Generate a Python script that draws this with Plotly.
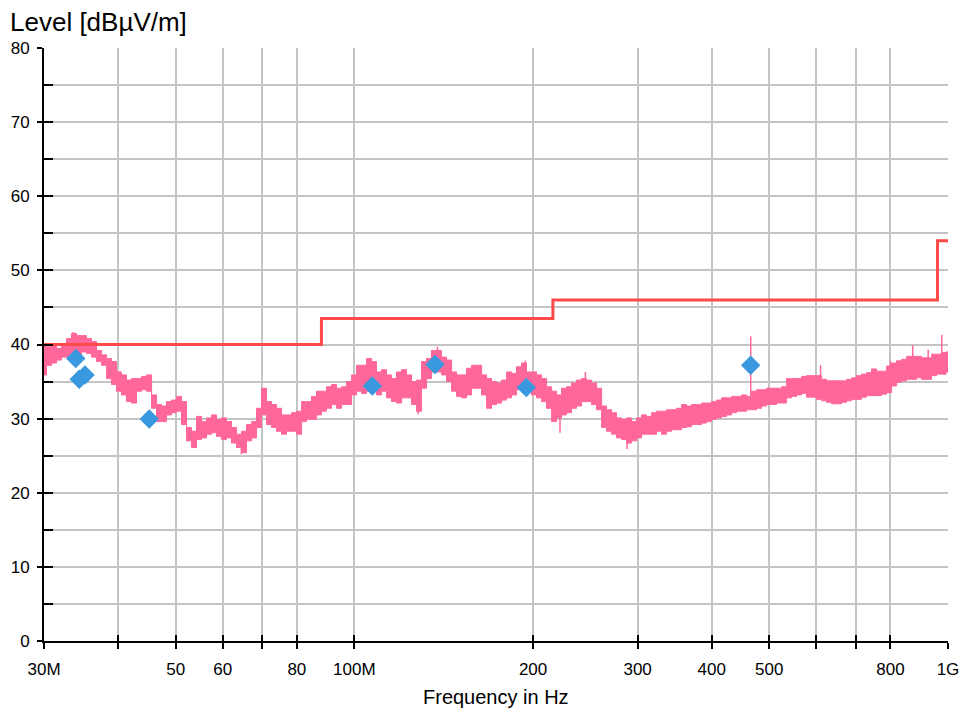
import math
import plotly.graph_objects as go

# ---- Peak scan: sweep frequencies (MHz) with upper / lower envelope of the trace (dBuV/m)
freq_mhz = [
    30.00, 30.59, 31.19, 31.80, 32.42, 33.05, 33.70, 34.36, 35.04, 35.72,
    36.42, 37.14, 37.87, 38.61, 39.36, 40.12, 40.91, 41.71, 42.54, 43.37,
    44.22, 45.09, 45.98, 46.87, 47.78, 48.71, 49.67, 50.64, 51.65, 52.65,
    53.68, 54.74, 55.82, 56.90, 58.01, 59.14, 60.30, 61.48, 62.71, 63.92,
    65.17, 66.46, 67.77, 69.08, 70.43, 71.80, 73.21, 74.64, 76.13, 77.60,
    79.12, 80.69, 82.28, 83.87, 85.50, 87.17, 88.88, 90.62, 92.43, 94.21,
    96.06, 97.96, 99.89, 101.82, 103.80, 105.83, 107.90, 110.02, 112.21, 114.37,
    116.62, 118.93, 121.27, 123.61, 126.02, 128.48, 131.00, 133.57, 136.23, 138.85,
    141.58, 144.39, 147.23, 150.07, 152.99, 155.98, 159.04, 162.16, 165.39, 168.57,
    171.88, 175.30, 178.74, 182.19, 185.73, 189.37, 193.08, 196.87, 200.79, 204.65,
    208.67, 212.82, 217.00, 221.19, 225.48, 229.90, 234.41, 239.01, 243.77, 248.45,
    253.33, 258.37, 263.45, 268.53, 273.74, 279.11, 284.58, 290.17, 295.95, 301.63,
    307.55, 313.67, 319.84, 326.01, 332.33, 338.85, 345.49, 352.28, 359.30, 366.19,
    373.38, 380.81, 388.30, 395.79, 403.46, 411.38, 419.44, 427.68, 436.20, 444.57,
    453.30, 462.32, 471.41, 480.50, 489.82, 499.43, 509.22, 519.22, 529.56, 539.73,
    550.32, 561.27, 572.31, 583.35, 594.66, 606.33, 618.22, 630.35, 642.91, 655.26,
    668.11, 681.41, 694.81, 708.21, 721.94, 736.11, 750.54, 765.27, 780.52, 795.51,
    811.11, 827.26, 843.53, 859.80, 876.47, 893.67, 911.19, 929.07, 947.58, 965.78,
    984.72, 1000.0,
]

level_max = [
    39.9, 39.7, 39.9, 39.5, 40.1, 40.8, 41.5, 41.2, 41.2, 40.8,
    40.4, 39.2, 38.6, 38.1, 37.7, 36.3, 35.9, 35.2, 35.4, 35.4,
    35.7, 35.9, 33.2, 31.9, 31.7, 32.3, 32.5, 33.0, 32.3, 28.8,
    28.3, 30.3, 29.6, 30.1, 30.5, 29.9, 30.1, 29.6, 28.8, 27.9,
    28.3, 29.2, 29.6, 31.4, 34.1, 32.3, 31.9, 31.4, 30.5, 30.5,
    30.8, 31.0, 32.3, 32.3, 33.0, 33.7, 33.7, 34.3, 34.6, 34.1,
    34.3, 35.0, 35.9, 37.2, 37.2, 38.1, 37.7, 36.3, 36.6, 35.9,
    35.4, 36.3, 36.6, 35.9, 35.0, 35.2, 37.7, 38.1, 39.2, 39.2,
    38.3, 37.9, 36.3, 35.9, 35.9, 36.8, 37.2, 37.2, 35.9, 35.4,
    35.0, 34.8, 35.2, 36.3, 36.1, 37.0, 37.5, 36.3, 36.3, 35.9,
    35.4, 34.3, 33.7, 33.2, 34.1, 34.3, 34.8, 35.2, 35.4, 35.2,
    34.8, 34.1, 31.7, 31.2, 30.8, 30.1, 29.9, 30.1, 29.6, 30.1,
    30.5, 30.3, 30.8, 31.0, 31.0, 31.2, 31.2, 31.4, 31.9, 31.7,
    31.9, 31.9, 32.1, 32.1, 32.3, 32.5, 32.8, 32.8, 33.0, 33.0,
    33.2, 33.0, 33.7, 33.9, 33.9, 34.1, 34.1, 34.1, 34.3, 35.4,
    35.4, 35.4, 35.7, 35.8, 35.8, 35.8, 35.3, 35.1, 35.1, 35.1,
    35.1, 35.3, 35.5, 35.8, 36.0, 36.2, 36.7, 36.4, 36.4, 37.1,
    37.5, 37.8, 38.0, 38.4, 38.4, 38.4, 38.2, 38.2, 38.7, 38.7,
    38.9, 39.0,
]

level_min = [
    35.9, 37.2, 37.5, 37.9, 38.3, 38.3, 38.6, 38.6, 39.0, 38.8,
    38.3, 37.7, 37.2, 35.4, 34.6, 33.7, 33.2, 32.3, 32.1, 33.7,
    33.9, 33.7, 31.4, 29.6, 29.6, 30.5, 30.8, 31.0, 29.2, 27.0,
    26.1, 27.2, 27.4, 27.9, 28.1, 27.6, 27.2, 27.4, 26.7, 26.1,
    25.4, 27.0, 27.4, 28.8, 30.5, 29.2, 28.8, 28.3, 27.9, 28.3,
    28.3, 27.9, 29.6, 29.9, 29.9, 30.5, 31.0, 31.4, 31.9, 31.4,
    31.9, 31.9, 33.2, 33.7, 33.4, 33.7, 33.7, 33.2, 33.7, 32.8,
    32.3, 32.1, 32.8, 32.8, 31.9, 31.0, 34.1, 35.4, 36.3, 36.3,
    35.9, 35.0, 33.7, 33.0, 32.8, 33.2, 34.1, 34.1, 33.2, 31.4,
    31.9, 32.1, 32.5, 32.8, 33.2, 33.9, 34.1, 33.7, 33.2, 32.8,
    32.3, 31.4, 29.6, 30.1, 30.5, 30.8, 31.4, 31.7, 32.3, 32.3,
    31.9, 31.2, 28.8, 28.3, 27.9, 27.4, 27.2, 26.7, 27.0, 27.4,
    27.9, 27.9, 27.9, 28.3, 27.9, 28.3, 28.5, 28.5, 28.8, 28.9,
    29.2, 29.2, 29.4, 29.6, 29.9, 30.1, 30.3, 30.5, 30.8, 31.0,
    31.0, 31.2, 31.2, 31.4, 31.7, 31.9, 31.9, 32.1, 32.1, 32.8,
    33.0, 33.2, 33.4, 32.9, 32.9, 32.6, 32.4, 32.2, 32.0, 32.0,
    32.2, 32.4, 32.6, 32.6, 32.9, 33.1, 33.1, 33.1, 33.3, 33.5,
    34.4, 34.9, 35.1, 35.3, 35.3, 35.5, 35.3, 35.3, 35.8, 36.0,
    36.0, 36.3,
]

# Narrow-band spikes standing out of the scan: frequency, foot and tip level
spike_freq = [33.6, 64.5, 128.0, 138.0, 194.0, 222.0, 245.0, 288.0, 465.2, 610.0, 800.0, 872.0, 926.0, 976.0]
spike_from = [40.5, 26.5, 31.5, 38.5, 36.5, 30.5, 34.5, 27.5, 32.5, 35.0, 36.5, 38.0, 38.0, 38.5]
spike_to = [41.7, 25.2, 30.6, 39.7, 37.8, 28.1, 36.3, 25.9, 41.1, 37.2, 37.8, 39.9, 39.3, 41.3]

# Final (quasi-peak) measurement points
final_freq = [33.93, 34.40, 35.17, 45.13, 107.2, 136.7, 194.8, 465.2]
final_level = [38.1, 35.3, 35.9, 29.95, 34.4, 37.3, 34.2, 37.2]

# Limit line
limit_freq = [30, 88, 216, 960, 1000]
limit_level = [40, 43.5, 46, 54, 54]

# Axis ticks
x_tick_vals = [30, 40, 50, 60, 70, 80, 100, 200, 300, 400, 500, 600, 700, 800, 1000]
x_tick_text = ["30M", "", "50", "60", "", "80", "100M", "200", "300", "400", "500", "", "", "800", "1G"]
y_tick_vals = [0, 10, 20, 30, 40, 50, 60, 70, 80]

PINK = "#ff6699"
BLUE = "#3a98de"
RED = "#ff4a4a"
GRID = "#c4c4c4"
FONT = "Liberation Sans, Arial, sans-serif"

x_range = [math.log10(30), math.log10(1000)]

fig = go.Figure()

# Scan band: lower envelope, then upper envelope filled down to it
fig.add_trace(go.Scatter(
    x=freq_mhz, y=level_min, mode="lines",
    line=dict(color=PINK, width=1, shape="hvh"),
    showlegend=False, hoverinfo="skip",
))
fig.add_trace(go.Scatter(
    x=freq_mhz, y=level_max, mode="lines",
    line=dict(color=PINK, width=1, shape="hvh"),
    fill="tonexty", fillcolor=PINK,
    showlegend=False, hoverinfo="skip",
))

# Spikes as thin vertical strokes
sx, sy = [], []
for f, a, b in zip(spike_freq, spike_from, spike_to):
    sx += [f, f, None]
    sy += [a, b, None]
fig.add_trace(go.Scatter(
    x=sx, y=sy, mode="lines",
    line=dict(color=PINK, width=1.5),
    showlegend=False, hoverinfo="skip",
))

# Limit
fig.add_trace(go.Scatter(
    x=limit_freq, y=limit_level, mode="lines",
    line=dict(color=RED, width=3, shape="hv"),
    showlegend=False, hoverinfo="skip",
))

# Final measurement markers
fig.add_trace(go.Scatter(
    x=final_freq, y=final_level, mode="markers",
    marker=dict(symbol="diamond", size=15, color=BLUE, line=dict(width=0)),
    showlegend=False,
))

# Helper trace so the inward-tick overlay axes are drawn
fig.add_trace(go.Scatter(
    x=[None], y=[None], xaxis="x2", yaxis="y2",
    showlegend=False, hoverinfo="skip",
))

fig.update_layout(
    width=962, height=710,
    margin=dict(l=44, r=14, t=48, b=69, autoexpand=False),
    paper_bgcolor="white", plot_bgcolor="white",
    font=dict(family=FONT, color="black"),
    xaxis=dict(
        type="log", range=x_range, automargin=False,
        tickmode="array", tickvals=x_tick_vals, ticktext=x_tick_text,
        ticks="outside", ticklen=6, tickwidth=2, tickcolor="black",
        showline=True, linewidth=2, linecolor="black",
        showgrid=True, gridcolor=GRID, gridwidth=2,
        zeroline=False,
        tickfont=dict(size=17, family=FONT, color="black"),
        ticklabelstandoff=6,
    ),
    xaxis2=dict(
        type="log", range=x_range, overlaying="x", anchor="y", side="bottom",
        automargin=False,
        tickmode="array", tickvals=x_tick_vals,
        ticks="inside", ticklen=6, tickwidth=2, tickcolor="black",
        showticklabels=False, showgrid=False, showline=False, zeroline=False,
    ),
    yaxis=dict(
        range=[0, 80], automargin=False,
        tickmode="array", tickvals=y_tick_vals,
        ticks="outside", ticklen=5, tickwidth=2, tickcolor="black",
        showline=True, linewidth=2, linecolor="black",
        showgrid=True, gridcolor=GRID, gridwidth=2,
        minor=dict(dtick=5, showgrid=True, gridcolor=GRID, gridwidth=2),
        zeroline=False,
        tickfont=dict(size=17, family=FONT, color="black"),
        ticklabelstandoff=4,
    ),
    yaxis2=dict(
        range=[0, 80], overlaying="y", anchor="x", side="left",
        automargin=False,
        tick0=0, dtick=5,
        ticks="inside", ticklen=9, tickwidth=2, tickcolor="black",
        showticklabels=False, showgrid=False, showline=False, zeroline=False,
    ),
    annotations=[
        dict(
            text="Level [dBµV/m]", xref="paper", yref="paper",
            x=0, y=1, xanchor="left", yanchor="bottom",
            xshift=-36, yshift=9, showarrow=False,
            font=dict(size=26, family=FONT, color="black"),
        ),
        dict(
            text="Frequency in Hz", xref="paper", yref="paper",
            x=0.5, y=0, xanchor="center", yanchor="top",
            yshift=-43, showarrow=False,
            font=dict(size=20, family=FONT, color="black"),
        ),
    ],
)

fig.write_html("out.html")
